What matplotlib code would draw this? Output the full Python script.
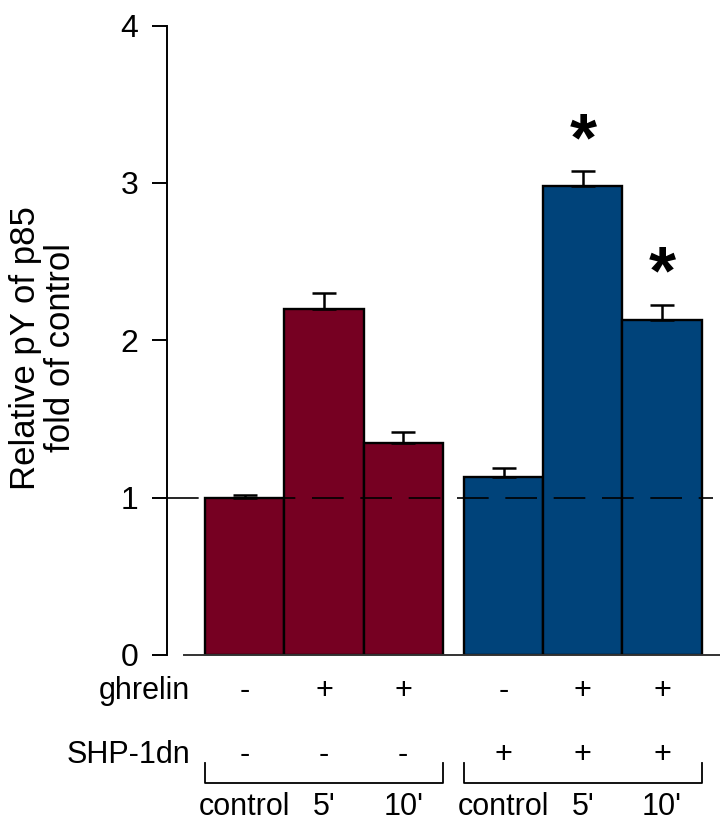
import matplotlib
matplotlib.use("Agg")
import matplotlib.pyplot as plt
import numpy as np

plt.rcParams['font.family'] = ['Liberation Sans', 'DejaVu Sans']

# Data
conditions = ['control', "5'", "10'", 'control', "5'", "10'"]
ghrelin = ['-', '+', '+', '-', '+', '+']
shp1dn = ['-', '-', '-', '+', '+', '+']
values = [1.00, 2.20, 1.345, 1.13, 2.98, 2.13]
errors = [0.015, 0.10, 0.075, 0.06, 0.095, 0.095]
significant = [False, False, False, False, True, True]
group = [0, 0, 0, 1, 1, 1]
group_colors = ['#760022', '#00437a']
yticks = [0, 1, 2, 3, 4]

# Layout
group_gap = 0.266
x = np.arange(len(values)) + group_gap * np.array(group)
colors = [group_colors[g] for g in group]

fig = plt.figure(figsize=(7.2, 8.23), dpi=100)
ax = fig.add_axes([167 / 720, 1 - 655 / 823, 553 / 720, 629.5 / 823])

ax.bar(x, values, width=1.0, color=colors, edgecolor='black',
       linewidth=1.7, zorder=2)
ax.errorbar(x, values, yerr=[np.zeros(len(values)), errors], fmt='none',
            ecolor='black', elinewidth=1.8, capsize=8.5, capthick=1.8,
            zorder=3)

# Control reference level
ax.axhline(1, xmin=0, xmax=0.987, color='black', lw=1.2,
           linestyle=(0, (19, 10)), zorder=4)

ax.set_xlim(-0.981, 5.997)
ax.set_ylim(0, 4)
ax.set_yticks(yticks)
ax.set_yticklabels([str(t) for t in yticks])
ax.set_xticks([])

for s in ['top', 'right']:
    ax.spines[s].set_visible(False)
ax.spines['left'].set_linewidth(1.4)
ax.spines['bottom'].set_linewidth(1.4)
ax.spines['bottom'].set_color('#333333')
ax.spines['bottom'].set_bounds(-0.767, 5.997)

ax.tick_params(axis='y', direction='out', length=10.5, width=1.4,
               labelsize=23, pad=10)

ax.set_ylabel('Relative pY of p85\nfold of control', fontsize=25,
              va='center', linespacing=1.1)
ax.yaxis.set_label_coords(-0.224, 0.488)

# Significance marks
for xi, v, e, sig in zip(x, values, errors, significant):
    if sig:
        ax.text(xi, v + e + 0.07, '*', ha='center', va='baseline',
                fontsize=50, fontweight='bold', clip_on=False)

# Treatment table below the axis
y_ghrelin = -0.229
y_shp = -0.635
ax.text(-0.691, y_ghrelin, 'ghrelin', ha='right', va='center', fontsize=22)
ax.text(-0.691, y_shp, 'SHP-1dn', ha='right', va='center', fontsize=22)
for xi, g, s in zip(x, ghrelin, shp1dn):
    ax.text(xi, y_ghrelin, g, ha='center', va='center', fontsize=22)
    ax.text(xi, y_shp, s, ha='center', va='center', fontsize=22)

# Group brackets and condition labels
y_br_top = -0.686
y_br_bot = -0.813
for gi in range(len(group_colors)):
    idx = [i for i, g in enumerate(group) if g == gi]
    left = x[idx[0]] - 0.5
    right = x[idx[-1]] + 0.5
    ax.plot([left, left, right, right], [y_br_top, y_br_bot, y_br_bot, y_br_top],
            color='black', lw=1.3, clip_on=False)
for xi, c in zip(x, conditions):
    ax.text(xi, -1.058, c, ha='center', va='bottom', fontsize=22)

fig.savefig('out.png', dpi=100)
